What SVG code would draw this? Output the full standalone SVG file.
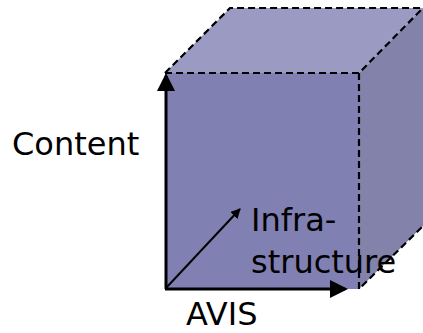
<svg xmlns="http://www.w3.org/2000/svg" width="423" height="333" viewBox="0 0 423 333">
<style>
.edge{fill:none;stroke:#000;stroke-width:2.2;stroke-dasharray:7,4}
.lbl{font-family:"DejaVu Sans",Verdana,sans-serif;font-size:32px;fill:#000}
.ax{stroke:#000;fill:none}
</style>
<defs>
<marker id="ah" markerWidth="6" markerHeight="6" refX="5" refY="3" orient="auto" markerUnits="strokeWidth"><path d="M0,0 L6,3 L0,6 z" fill="#000"/></marker>
<marker id="ah2" markerWidth="5" markerHeight="5" refX="4.5" refY="2.5" orient="auto" markerUnits="strokeWidth"><path d="M0,0 L5,2.5 L0,5 z" fill="#000"/></marker>
</defs>
<g id="cube">
<polygon points="165,73 230,8 423,8 359,73" fill="#9a9ac2"/>
<polygon points="359,73 423,8 423,226 359,289" fill="#8282aa"/>
<rect x="165" y="73" width="194" height="216" fill="#8080b2"/>
<path class="edge" d="M165,73 L230,8 L423,8 M165,73 L359,73 L423,8 M359,73 L359,289 L423,226"/>
</g>
<g id="connectors">
<line class="ax" x1="166" y1="289" x2="166" y2="76" stroke-width="3" marker-end="url(#ah)"/>
<line class="ax" x1="165" y1="289" x2="345" y2="289" stroke-width="3" marker-end="url(#ah)"/>
<line class="ax" x1="166" y1="288" x2="240" y2="209" stroke-width="2" marker-end="url(#ah2)"/>
</g>
<g id="labels">
<text class="lbl" x="12" y="155">Content</text>
<text class="lbl" x="251" y="231">Infra-</text>
<text class="lbl" x="251" y="273">structure</text>
<text class="lbl" x="186" y="325">AVIS</text>
</g>
</svg>
